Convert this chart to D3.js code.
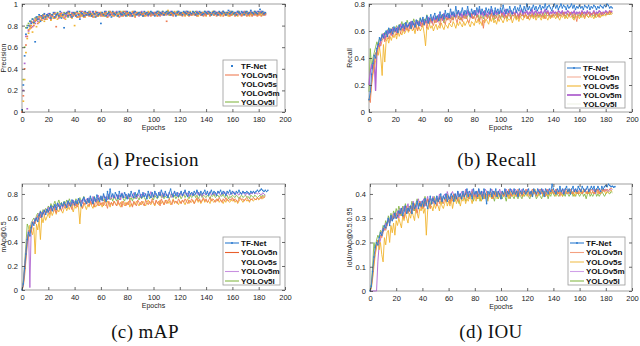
<!DOCTYPE html>
<html>
<head>
<meta charset="utf-8">
<script src="https://cdn.jsdelivr.net/npm/d3@7"></script>
<style>
body { margin: 0; background: #fff; }
svg { display: block; }
</style>
</head>
<body>
<svg width="640" height="346"></svg>
<script>
const names = ['TF-Net', 'YOLOv5n', 'YOLOv5s', 'YOLOv5m', 'YOLOv5l'];
const colors = ['#2f7dd0', '#ee7d55', '#f0b430', '#b065d0', '#86b848'];
const xTicks = [0, 20, 40, 60, 80, 100, 120, 140, 160, 180, 200];

// precision, x100, one value per epoch
const precTF = [2,25,52,72,78,80,84,82,86,83, 65,88,86,90,84,89,87,91,88,90, 89,91,87,90,92,88,90,91,89,93, 87,90,78,91,92,89,93,90,88,92,
  91,89,93,90,86,92,91,89,93,90, 92,90,91,89,93,91,88,92,90,91, 82,92,90,93,89,91,92,90,88,93, 91,90,92,89,93,91,90,92,91,89,
  93,90,92,91,89,92,93,90,91,92, 90,92,89,93,91,92,90,91,93,92, 91,89,92,93,90,92,91,93,90,92, 93,91,92,90,93,92,91,89,92,93,
  91,92,90,93,92,91,93,90,92,91, 93,92,90,92,91,93,92,90,91,93, 92,91,93,92,90,92,93,91,92,90, 93,92,91,93,92,90,92,94,91,92,
  93,91,92,90,93,92,91,93,92,90, 92,93,91,92,94,92,91,93,92,91, 93,95,92,93,91,92];
const precV5n = [0,15,40,62,70,76,80,78,83,80, 84,86,82,88,85,87,89,86,88,90, 88,90,86,89,91,87,79,90,88,91, 89,90,87,91,89,92,90,88,91,89,
  90,92,88,91,89,93,90,88,92,90, 91,89,92,90,88,91,93,89,90,92, 90,91,89,92,90,88,91,93,90,92, 89,91,92,90,88,92,91,89,93,90,
  92,91,89,90,92,91,88,92,90,91, 92,90,91,89,92,90,91,92,89,91, 90,92,91,89,92,90,91,92,90,91, 84,91,92,90,91,89,92,90,91,92,
  90,91,89,92,90,91,92,89,91,90, 92,90,91,89,92,91,90,92,89,91, 90,92,91,89,91,92,90,91,89,92, 91,90,92,89,91,90,92,91,89,90,
  92,91,89,91,90,92,91,89,90,92, 91,89,92,90,91,89,92,90,91,89, 90,92,89,91,90,91];
const precV5s = [1,10,30,55,68,73,77,80,74,82, 85,79,86,83,88,85,87,84,89,86, 88,90,85,89,87,91,88,86,90,89, 91,88,90,86,92,89,91,90,87,91,
  80,90,92,88,91,89,90,92,88,91, 90,92,89,91,90,88,92,91,89,90, 92,89,91,90,92,88,91,90,92,89, 91,92,89,90,91,93,89,92,90,91,
  89,92,90,91,93,90,89,92,91,90, 92,91,90,92,89,91,93,90,92,91, 90,92,91,89,92,91,90,93,91,90, 92,94,90,91,92,90,93,91,90,92,
  91,90,92,91,89,92,90,91,93,90, 91,92,90,91,89,92,91,90,92,91, 89,91,92,90,91,93,90,91,92,90, 91,89,92,91,90,92,91,89,92,90,
  91,92,90,91,89,92,91,90,92,91, 90,92,91,89,92,90,91,92,90,91, 92,90,91,92,90,91];
const precV5m = [0,20,45,70,3,75,80,83,79,85, 82,87,84,86,89,85,88,90,86,89, 91,87,89,90,88,92,89,91,87,90, 92,89,91,88,90,93,90,89,92,90,
  91,89,92,90,88,91,93,90,89,92, 90,91,93,89,92,90,91,89,92,91, 89,92,90,91,93,90,89,92,91,90, 92,91,93,90,91,89,92,90,91,93,
  90,91,92,89,91,93,90,92,91,89, 91,93,90,91,92,90,89,92,91,90, 92,91,90,93,91,89,92,90,91,92, 90,92,91,93,90,91,92,90,91,93,
  92,90,91,92,90,93,91,92,90,91, 92,91,90,93,91,92,90,91,92,90, 91,93,92,90,91,92,90,93,91,92, 90,91,92,93,91,90,92,91,93,90,
  92,91,90,92,93,91,90,92,91,93, 91,92,90,91,93,92,90,91,92,93, 91,92,93,91,92,90];
const precV5l = [1,30,60,78,80,82,79,84,86,83, 87,85,88,86,89,87,90,88,86,90, 89,91,88,90,87,91,89,92,90,88, 91,90,92,89,91,88,92,90,91,89,
  92,90,88,91,93,90,89,92,91,90, 91,93,90,89,92,91,90,92,89,91, 92,90,91,89,92,91,93,90,91,92, 90,92,91,89,92,90,91,93,90,92,
  91,90,92,91,89,92,90,91,92,90, 92,91,89,92,90,91,92,91,90,92, 91,90,92,91,93,90,92,91,90,92, 91,93,90,92,91,90,92,91,93,90,
  92,91,90,92,91,93,90,92,91,90, 92,91,93,90,92,91,90,92,91,93, 90,92,91,92,90,91,93,92,90,91, 92,90,91,93,92,91,90,92,91,93,
  90,92,91,90,92,93,91,90,92,91, 93,91,90,92,91,90,92,93,91,90, 92,91,93,90,92,91];

// recall, x100
const recTF = [9,15,28,36,42,40,47,50,55,53, 57,55,58,60,56,62,59,61,58,63, 60,62,59,64,61,63,65,62,66,63, 64,66,62,67,65,63,68,66,64,69,
  67,70,65,68,71,66,69,72,68,70, 73,69,71,68,74,70,72,69,75,71, 73,70,76,72,74,71,78,73,75,72, 74,77,72,75,73,78,74,71,76,73,
  75,72,77,74,78,73,76,74,72,77, 74,76,73,78,75,72,77,74,76,73, 77,74,79,75,73,76,74,78,75,73, 76,78,74,77,75,79,76,74,78,75,
  80,76,78,75,77,79,76,78,75,77, 79,76,78,77,80,76,78,79,77,75, 78,80,77,79,76,78,80,77,79,78, 76,79,77,78,80,77,79,76,78,77,
  79,77,78,76,79,78,77,79,76,78, 77,79,78,76,78,77,79,78,77,79, 78,80,79,77,78,77];
const recV5n = [10,7,22,30,38,44,42,48,51,49, 53,56,52,55,58,54,57,60,56,59, 61,57,60,63,58,62,60,64,61,63, 60,65,62,64,61,66,63,60,65,67,
  63,66,64,68,62,67,65,69,66,64, 68,66,70,67,64,69,71,67,65,70, 68,71,66,70,68,72,69,66,71,68, 70,67,72,69,71,68,66,70,73,69,
  71,68,72,70,67,71,69,62,70,72, 69,71,68,73,70,72,69,71,68,72, 70,73,71,69,72,70,73,71,69,72, 71,73,70,72,69,73,71,72,70,73,
  71,69,72,70,73,71,72,70,73,71, 72,70,73,71,69,72,74,71,72,70, 73,71,72,74,70,73,71,72,74,71, 72,73,71,74,72,70,73,71,67,72,
  73,71,74,72,70,73,72,74,71,73, 72,74,71,73,72,70,73,74,72,73, 74,72,73,75,73,74];
const recV5s = [8,12,20,28,33,38,45,42,48,40, 27,50,37,52,55,51,56,53,57,55, 58,54,60,56,59,57,61,58,60,62, 59,61,63,60,62,58,64,61,63,60,
  62,64,58,49,63,61,65,62,64,60, 63,65,61,64,62,66,63,61,65,64, 62,66,64,63,67,65,62,66,64,67, 65,63,67,64,66,68,65,63,67,66,
  64,68,66,69,65,67,64,68,66,69, 67,65,69,67,70,66,68,65,69,67, 70,68,66,69,71,67,69,68,70,66, 69,71,68,70,67,71,69,68,70,72,
  69,71,68,70,72,69,71,68,70,72, 70,68,71,69,72,70,68,71,69,72, 70,71,69,72,70,68,71,70,72,69, 71,69,72,70,71,69,68,72,70,71,
  69,72,70,71,69,72,71,70,72,70, 71,69,72,70,71,73,70,72,71,72, 71,73,72,74,72,73];
const recV5m = [20,30,35,32,38,16,45,50,48,54, 56,58,54,57,60,58,61,57,62,60, 62,59,63,61,65,62,64,60,66,63, 65,62,67,64,66,63,68,65,67,64,
  66,69,65,68,66,70,67,69,66,71, 68,70,67,72,69,71,68,73,70,72, 69,72,70,74,71,73,70,72,75,71, 73,70,74,72,71,75,72,73,70,74,
  72,75,71,73,76,72,74,71,75,73, 71,74,72,76,73,71,75,72,74,73, 75,72,74,71,76,73,72,75,74,72, 74,72,75,73,71,74,76,72,74,73,
  75,72,74,73,76,72,74,75,72,74, 73,75,72,74,76,73,75,72,74,73, 75,73,74,72,75,74,73,75,72,74, 73,75,74,72,74,73,75,72,74,73,
  74,72,75,73,74,72,75,73,74,72, 73,75,72,74,73,75,74,72,74,73, 75,74,73,75,74,75];
const recV5l = [15,47,32,40,44,48,52,49,55,53, 58,55,59,57,61,58,62,60,63,59, 62,64,61,65,63,67,62,66,64,68, 65,63,67,64,69,66,63,68,65,70,
  67,64,69,66,72,68,65,70,67,69, 66,71,68,70,67,72,69,66,71,68, 70,73,69,71,68,72,70,74,69,71, 68,72,70,73,69,71,74,70,72,69,
  71,73,70,72,68,74,71,69,73,71, 70,72,69,73,71,68,72,70,74,71, 69,72,70,73,71,69,72,74,70,72, 71,73,69,72,70,74,71,73,70,72,
  71,69,73,71,72,70,74,71,72,70, 73,71,72,70,74,72,71,73,70,72, 71,73,72,70,73,71,72,74,71,72, 70,73,71,72,74,71,69,72,73,71,
  72,70,73,71,72,74,71,70,72,73, 71,72,70,73,71,72,74,71,72,73, 72,74,73,72,74,73];

// mAP@0.5, x100
const mapTF = [0,5,18,30,42,48,45,52,56,54, 58,60,57,62,65,61,64,66,63,67, 65,68,70,66,69,71,67,72,70,68, 72,70,73,71,69,74,72,70,75,73,
  71,74,72,76,73,70,75,77,74,72, 76,73,78,75,72,77,74,79,76,74, 78,75,80,77,74,82,76,84,78,80, 77,81,79,76,82,78,80,77,81,79,
  76,80,78,82,79,77,81,78,80,83, 79,77,81,78,80,76,82,79,77,81, 78,82,80,77,81,79,83,80,78,82, 79,77,81,84,80,78,82,79,81,78,
  80,82,79,81,83,80,78,82,80,81, 79,82,80,83,81,79,82,80,81,83, 80,82,79,81,83,80,82,81,79,82, 81,83,80,82,81,79,82,81,83,80,
  82,81,80,82,81,83,81,80,82,81, 81,82,81,80,82,81,82,81,82,83, 82,83,84,83,82,83,82,83];
const mapV5n = [0,3,12,25,38,45,50,48,54,57, 55,59,62,58,63,60,65,62,66,64, 67,63,68,66,70,67,64,69,71,68, 66,70,72,68,71,69,73,70,67,72,
  70,73,69,72,74,70,68,73,71,74, 72,70,74,71,73,69,75,72,70,74, 71,73,70,75,72,68,74,71,73,70, 74,72,70,75,71,73,69,74,72,70,
  73,71,75,72,69,74,72,70,75,73, 71,74,72,70,75,73,71,74,72,76, 73,71,75,72,74,70,76,73,71,75, 72,74,76,73,71,75,73,74,72,76,
  74,72,75,73,76,74,72,75,73,76, 74,72,75,77,74,76,73,75,77,74, 76,73,75,77,74,76,75,73,76,74, 77,75,73,76,74,77,75,74,76,75,
  77,74,76,75,73,76,77,75,76,74, 76,77,75,74,76,75,77,76,75,77, 76,77,76,78,77,78];
const mapV5s = [0,4,15,28,40,47,54,50,46,52, 30,55,50,58,42,60,56,62,58,61, 64,60,66,62,65,68,63,67,65,69, 66,64,68,70,66,69,67,71,68,65,
  70,68,72,69,55,71,68,72,70,67, 71,69,73,70,68,72,69,71,74,70, 72,69,73,71,70,74,72,69,73,71, 74,72,70,73,71,69,74,72,70,73,
  71,74,69,72,70,73,71,74,72,70, 73,71,74,72,70,73,75,72,71,74, 72,70,74,73,71,75,72,74,71,73, 75,72,74,71,73,76,72,74,73,71,
  74,72,75,73,71,74,76,72,74,73, 75,72,74,76,73,75,72,74,76,73, 75,73,74,72,76,74,73,75,74,76, 73,75,74,72,75,73,76,74,73,75,
  74,76,73,75,72,74,76,75,73,75, 76,74,75,73,76,75,74,76,75,77, 75,76,78,76,77,78];
const mapV5m = [0,6,20,32,44,50,2,52,57,55, 60,58,62,64,60,65,63,67,64,66, 69,66,70,67,65,71,68,70,72,69, 71,68,73,70,72,74,70,73,71,75,
  72,70,74,76,73,75,72,77,74,76, 73,77,75,72,78,74,76,73,79,75, 77,74,79,76,78,75,80,77,76,79, 78,76,80,77,79,75,81,78,77,80,
  79,76,80,78,77,81,79,76,80,78, 77,80,78,81,79,77,80,78,82,79, 77,81,79,78,80,82,79,77,81,79, 80,78,81,79,77,80,82,79,78,81,
  79,81,78,80,82,79,81,78,80,79, 81,79,80,82,79,81,80,78,81,80, 79,81,80,82,79,80,81,79,80,82, 80,79,81,80,82,79,81,80,79,81,
  80,82,79,81,80,79,81,80,82,80, 79,81,80,79,81,80,82,80,81,80, 81,80,79,81,80,79];
const mapV5l = [0,8,22,38,55,52,48,56,58,60, 57,62,64,61,66,63,67,65,68,66, 70,67,72,69,71,74,70,72,75,71, 73,70,74,72,75,71,76,73,70,75,
  72,76,74,71,77,73,75,78,74,72, 76,73,77,75,72,78,74,76,73,77, 75,78,74,76,73,77,79,75,77,74, 78,76,74,79,75,77,80,76,74,78,
  76,79,75,77,74,78,76,80,77,75, 78,76,79,77,75,78,80,76,78,77, 75,79,77,76,78,80,77,79,76,78, 77,79,76,78,80,77,79,76,78,77,
  79,76,78,80,77,79,78,76,79,77, 78,80,77,79,76,78,80,77,79,78, 77,79,78,76,79,78,80,77,78,79, 77,79,78,80,77,78,79,76,78,77,
  79,78,77,79,78,76,78,79,77,78, 79,77,78,76,79,78,77,79,78,77, 78,79,77,79,78,79];

// IoU / mAP@0.5:0.95, x1000
const iouTF = [0,20,80,140,180,200,190,220,240,230, 250,270,260,280,300,270,310,290,300,320, 300,310,330,320,340,310,330,350,320,340,
  330,350,320,360,340,350,370,340,360,350, 370,350,380,360,340,370,390,360,380,370, 360,390,370,380,400,370,390,380,400,370,
  390,380,400,390,370,400,380,410,390,400, 380,410,390,400,420,390,410,400,380,420, 400,410,390,420,400,410,380,420,400,360,
  410,400,420,390,410,400,420,390,410,400, 380,410,400,420,390,410,400,420,410,400, 420,400,410,390,420,410,400,420,410,400,
  410,420,400,410,390,420,410,400,420,410, 400,420,410,390,420,410,400,420,410,440, 420,410,400,420,410,430,410,420,400,420,
  430,410,420,400,420,430,410,420,410,430, 420,410,430,420,410,420,430,410,420,430, 420,430,410,420,430,420,410,430,420,430,
  435,430,440,435,430,432,428,430];
const iouV5n = [0,15,60,120,160,190,210,200,230,220, 240,260,250,270,290,280,300,290,310,300, 320,300,330,310,340,320,300,330,350,320,
  340,320,350,330,360,340,320,350,370,340, 360,340,370,350,380,360,340,370,360,380, 370,350,380,360,390,370,360,380,370,390,
  380,360,390,370,400,380,390,370,400,380, 390,400,380,410,390,380,400,390,410,390, 400,380,410,390,400,410,390,400,380,410,
  400,390,410,400,380,410,390,400,410,390, 400,410,390,400,410,390,420,400,390,410, 400,410,390,420,400,410,390,410,400,420,
  410,400,390,410,420,400,410,390,410,400, 420,410,400,410,390,420,410,400,410,420, 400,410,420,400,410,390,410,420,400,410,
  420,410,400,420,410,400,410,420,410,400, 410,420,400,410,420,410,400,420,410,420, 410,400,420,410,420,400,410,420,410,420,
  410,420,415,420,425,420];
const iouV5s = [0,10,50,100,150,180,210,170,200,150, 120,220,190,240,250,200,270,240,280,230, 290,270,300,280,260,310,290,320,300,280,
  320,300,330,310,290,340,320,300,340,330, 350,320,340,230,330,360,340,350,330,360, 340,360,350,330,370,350,340,360,380,350,
  370,350,380,340,370,390,360,380,370,350, 380,370,390,360,380,370,390,380,360,390, 380,370,390,380,400,370,390,380,400,390,
  370,400,390,380,400,390,410,380,400,390, 380,400,390,410,390,400,380,410,400,390, 400,390,410,400,390,410,400,390,410,400,
  390,410,400,390,410,400,420,400,390,410, 400,410,390,400,410,400,390,410,400,420, 410,400,390,410,400,410,400,390,410,400,
  410,400,420,410,400,410,390,410,400,410, 400,410,400,420,410,400,410,400,410,400, 410,400,410,420,400,410,400,410,420,410,
  400,410,405,410,415,410];
const iouV5m = [0,0,0,0,0,0,120,190,210,240, 260,250,280,270,300,280,310,290,320,300, 310,330,300,340,320,330,350,320,340,360,
  330,350,340,370,350,330,360,380,350,370, 360,380,350,370,390,360,380,370,390,360, 380,390,370,400,380,370,390,400,380,410,
  390,380,400,410,390,400,380,410,400,390, 410,400,390,420,400,410,390,400,420,400, 390,410,400,420,400,390,410,400,420,410,
  400,390,410,420,400,410,390,410,400,420, 400,410,390,410,420,400,410,390,420,410, 400,420,410,390,410,400,420,410,400,410,
  420,410,400,410,390,420,410,400,410,420, 410,400,420,410,400,410,420,400,410,420, 410,400,420,410,400,420,410,400,420,410,
  400,410,420,410,400,410,420,410,400,410, 420,410,400,410,420,410,400,420,410,400, 410,420,400,410,420,410,400,410,420,410,
  420,415,410,420,415,418];
const iouV5l = [0,30,100,200,170,210,230,220,250,240, 270,260,290,270,310,290,320,300,330,310, 340,320,350,330,310,350,330,360,340,320,
  350,340,370,350,330,360,380,350,370,360, 340,370,390,360,380,370,350,380,370,390, 360,380,370,390,380,360,390,380,370,400,
  380,370,390,380,400,370,390,380,360,390, 380,400,390,370,400,390,380,400,390,370, 400,390,380,400,370,390,400,380,390,400,
  380,390,400,380,390,370,400,390,380,400, 390,380,400,390,370,400,390,380,400,390, 380,400,390,380,400,390,380,400,390,410,
  400,390,380,400,390,410,400,380,390,400, 390,380,400,410,390,400,380,400,390,410, 400,390,410,400,390,400,410,390,400,390,
  410,400,390,400,410,390,400,390,410,400, 390,400,410,390,400,380,400,410,390,400, 390,400,410,390,400,390,400,410,400,390,
  400,410,405,400,410,405];

const panels = [
  { series: [precTF, precV5n, precV5s, precV5m, precV5l], unit: 100, ymax: 1, yTicks: [0, 0.2, 0.4, 0.6, 0.8, 1],
    ylabel: 'Precision', caption: '(a) Precision', dots: true,
    x0: 22, x1: 285, top: 4, bottom: 112, labelX: 3.5, capX: 148, capY: 166,
    legend: { x: 223, y: 60, w: 54, h: 46 },
    swatch: ['dot', '#ee7d55', null, null, '#86b848'] },
  { series: [recTF, recV5n, recV5s, recV5m, recV5l], unit: 100, ymax: 0.8, yTicks: [0, 0.2, 0.4, 0.6, 0.8],
    ylabel: 'Recall', caption: '(b) Recall', dots: false,
    x0: 369, x1: 632, top: 4, bottom: 112, labelX: 349.5, capX: 497, capY: 166,
    legend: { x: 565, y: 62, w: 60, h: 46 },
    swatch: ['#2f7dd0', '#f4b09a', '#f0b430', '#b065d0', '#eef2e6'] },
  { series: [mapTF, mapV5n, mapV5s, mapV5m, mapV5l], unit: 100, ymax: 0.883, yTicks: [0, 0.2, 0.4, 0.6, 0.8],
    ylabel: 'mAp@0.5', caption: '(c) mAP', dots: false,
    x0: 22, x1: 285, top: 184, bottom: 290, labelX: 3.5, capX: 145, capY: 338,
    legend: { x: 223, y: 237, w: 57, h: 48 },
    swatch: ['#2f7dd0', '#e8602c', null, '#c890e0', '#86b848'] },
  { series: [iouTF, iouV5n, iouV5s, iouV5m, iouV5l], unit: 1000, ymax: 0.441, yTicks: [0, 0.1, 0.2, 0.3, 0.4],
    ylabel: 'IoU/mAp@0.5:0.95', caption: '(d) IOU', dots: false,
    x0: 370, x1: 632, top: 184, bottom: 291, labelX: 349.5, capX: 491, capY: 338,
    legend: { x: 568, y: 237, w: 57, h: 48 },
    swatch: ['#2f7dd0', '#f4a080', '#f0c050', '#d0a0e8', '#86b848'] }
];

const svg = d3.select('svg');
const font = 'Liberation Sans, Arial, sans-serif';

panels.forEach(p => {
  const x = d3.scaleLinear().domain([0, 200]).range([p.x0, p.x1]);
  const y = d3.scaleLinear().domain([0, p.ymax]).range([p.bottom, p.top]);
  const g = svg.append('g');

  // frame
  g.append('rect')
    .attr('x', p.x0).attr('y', p.top)
    .attr('width', p.x1 - p.x0).attr('height', p.bottom - p.top)
    .attr('fill', 'none').attr('stroke', '#888').attr('stroke-width', 0.8);

  // series, drawn back to front so TF-Net ends on top
  const order = [4, 3, 2, 1, 0];
  order.forEach(k => {
    const vals = p.series[k];
    if (p.dots) {
      g.append('g').selectAll('rect').data(vals).join('rect')
        .attr('x', (d, i) => x(i) - 0.9)
        .attr('y', d => y(d / p.unit) - 0.8)
        .attr('width', 1.8).attr('height', 1.6)
        .attr('fill', colors[k]);
    } else {
      const line = d3.line().x((d, i) => x(i)).y(d => y(d / p.unit));
      g.append('path').attr('d', line(vals))
        .attr('fill', 'none').attr('stroke', colors[k])
        .attr('stroke-width', k === 3 && p.ylabel === 'Recall' ? 1.4 : 0.9)
        .attr('stroke-linejoin', 'round');
      if (k === 0) {
        g.append('g').selectAll('circle').data(vals).join('circle')
          .attr('cx', (d, i) => x(i)).attr('cy', d => y(d / p.unit))
          .attr('r', 0.8).attr('fill', colors[0]);
      }
    }
  });

  // axes with inward ticks, MATLAB-like
  const styleAxis = a => {
    a.select('.domain').remove();
    a.selectAll('line').attr('stroke', '#444').attr('stroke-width', 0.8);
    a.selectAll('text').attr('font-family', font).attr('font-size', 7.5).attr('fill', '#222');
  };
  g.append('g').attr('transform', `translate(0,${p.bottom})`)
    .call(d3.axisBottom(x).tickValues(xTicks).tickFormat(d3.format('d')).tickSizeInner(-3).tickSizeOuter(0).tickPadding(5))
    .call(styleAxis);
  g.append('g').attr('transform', `translate(0,${p.top})`)
    .call(d3.axisTop(x).tickValues(xTicks).tickFormat('').tickSizeInner(-3).tickSizeOuter(0))
    .call(styleAxis);
  g.append('g').attr('transform', `translate(${p.x0},0)`)
    .call(d3.axisLeft(y).tickValues(p.yTicks).tickFormat(d => d === 0 || d === 1 ? d3.format('d')(d) : d3.format('.1f')(d)).tickSizeInner(-3).tickSizeOuter(0).tickPadding(4))
    .call(styleAxis);
  g.append('g').attr('transform', `translate(${p.x1},0)`)
    .call(d3.axisRight(y).tickValues(p.yTicks).tickFormat('').tickSizeInner(-3).tickSizeOuter(0))
    .call(styleAxis);

  // axis titles
  g.append('text')
    .attr('x', (p.x0 + p.x1) / 2).attr('y', p.bottom + 18)
    .attr('text-anchor', 'middle').attr('font-family', font).attr('font-size', 7)
    .attr('fill', '#222').text('Epochs');
  g.append('text')
    .attr('transform', `translate(${p.labelX},${(p.top + p.bottom) / 2}) rotate(-90)`)
    .attr('text-anchor', 'middle').attr('dominant-baseline', 'central')
    .attr('font-family', font).attr('font-size', 7)
    .attr('fill', '#222').text(p.ylabel);

  // legend
  const L = p.legend;
  const lg = g.append('g');
  lg.append('rect').attr('x', L.x).attr('y', L.y).attr('width', L.w).attr('height', L.h)
    .attr('fill', '#fff').attr('stroke', '#999').attr('stroke-width', 0.8);
  names.forEach((n, i) => {
    const cy = L.y + 6 + i * (L.h - 10) / 4;
    const sw = p.swatch[i];
    if (sw === 'dot') {
      lg.append('rect').attr('x', L.x + 8).attr('y', cy - 1).attr('width', 2).attr('height', 2).attr('fill', colors[0]);
    } else if (sw) {
      lg.append('line').attr('x1', L.x + 2).attr('x2', L.x + 16).attr('y1', cy).attr('y2', cy)
        .attr('stroke', sw).attr('stroke-width', i === 3 && p.ylabel === 'Recall' ? 1.8 : 1.1);
      if (i === 0) lg.append('circle').attr('cx', L.x + 9).attr('cy', cy).attr('r', 1).attr('fill', sw);
    }
    lg.append('text').attr('x', L.x + 18).attr('y', cy).attr('dominant-baseline', 'central')
      .attr('font-family', font).attr('font-size', 8).attr('font-weight', 'bold')
      .attr('fill', '#111').text(n);
  });

  // caption
  svg.append('text').attr('x', p.capX).attr('y', p.capY)
    .attr('text-anchor', 'middle').attr('font-family', 'Liberation Serif, DejaVu Serif, serif')
    .attr('font-size', 19).attr('letter-spacing', 0.4).attr('fill', '#111').text(p.caption);
});
</script>
</body>
</html>
